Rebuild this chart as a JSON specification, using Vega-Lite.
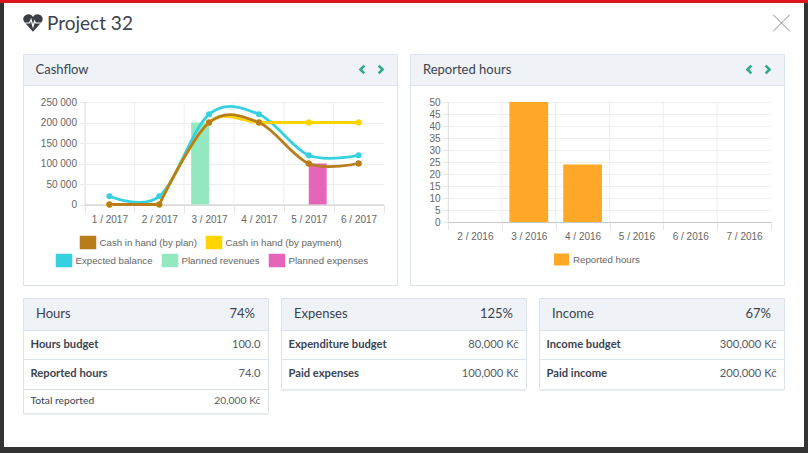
{
"$schema":"https://vega.github.io/schema/vega-lite/v6.json",
"background":"#ffffff",
"padding":0,
"spacing":0,
"config":{"view":{"stroke":null},"concat":{"spacing":0}},
"datasets":{
"planned":[{"month":"3 / 2017","series":"Planned revenues","amount":200000},{"month":"5 / 2017","series":"Planned expenses","amount":100000}],
"balance":[
{"month":"1 / 2017","series":"Expected balance","amount":20000},{"month":"2 / 2017","series":"Expected balance","amount":20000},{"month":"3 / 2017","series":"Expected balance","amount":220000},{"month":"4 / 2017","series":"Expected balance","amount":220000},{"month":"5 / 2017","series":"Expected balance","amount":120000},{"month":"6 / 2017","series":"Expected balance","amount":120000}],
"cashFlat":[
{"month":"1 / 2017","series":"Cash in hand (by payment)","amount":0},{"month":"2 / 2017","series":"Cash in hand (by payment)","amount":0},
{"month":"1 / 2017","series":"Cash in hand (by plan)","amount":0},{"month":"2 / 2017","series":"Cash in hand (by plan)","amount":0}],
"cashCurve":[
{"month":"2 / 2017","series":"Cash in hand (by payment)","amount":0},{"month":"3 / 2017","series":"Cash in hand (by payment)","amount":200000},{"month":"4 / 2017","series":"Cash in hand (by payment)","amount":200000},{"month":"5 / 2017","series":"Cash in hand (by payment)","amount":200000},{"month":"6 / 2017","series":"Cash in hand (by payment)","amount":200000},
{"month":"2 / 2017","series":"Cash in hand (by plan)","amount":0},{"month":"3 / 2017","series":"Cash in hand (by plan)","amount":200000},{"month":"4 / 2017","series":"Cash in hand (by plan)","amount":200000},{"month":"5 / 2017","series":"Cash in hand (by plan)","amount":100000},{"month":"6 / 2017","series":"Cash in hand (by plan)","amount":100000}],
"cash":[
{"month":"1 / 2017","series":"Cash in hand (by payment)","amount":0},{"month":"2 / 2017","series":"Cash in hand (by payment)","amount":0},{"month":"3 / 2017","series":"Cash in hand (by payment)","amount":200000},{"month":"4 / 2017","series":"Cash in hand (by payment)","amount":200000},{"month":"5 / 2017","series":"Cash in hand (by payment)","amount":200000},{"month":"6 / 2017","series":"Cash in hand (by payment)","amount":200000},
{"month":"1 / 2017","series":"Cash in hand (by plan)","amount":0},{"month":"2 / 2017","series":"Cash in hand (by plan)","amount":0},{"month":"3 / 2017","series":"Cash in hand (by plan)","amount":200000},{"month":"4 / 2017","series":"Cash in hand (by plan)","amount":200000},{"month":"5 / 2017","series":"Cash in hand (by plan)","amount":100000},{"month":"6 / 2017","series":"Cash in hand (by plan)","amount":100000}],
"hours":[{"month":"2 / 2016","hours":0},{"month":"3 / 2016","hours":50},{"month":"4 / 2016","hours":24},{"month":"5 / 2016","hours":0},{"month":"6 / 2016","hours":0},{"month":"7 / 2016","hours":0}]
},
"vconcat":[
{"width":808,"height":3,"view":{"fill":"#d9161e"},"data":{"values":[]},"mark":"rect"},
{"hconcat":[
{"width":4,"height":444,"view":{"fill":"#333333"},"data":{"values":[]},"mark":"rect"},
{"spacing":10,"vconcat":[
{"width":800,"height":40,"view":{"fill":"#ffffff"},"data":{"values":[{"title":"Project 32"}]},
"encoding":{"x":{"datum":0,"type":"quantitative","scale":{"domain":[0,1],"range":[29,777.5]},"axis":null}},
"layer":[
{"mark":{"type":"point","filled":true,"opacity":1,"color":"#3b3f46","size":380,"shape":"M0,0.9L-0.85,-0.05C-1.2,-0.5,-0.85,-0.9,-0.45,-0.9C-0.2,-0.9,-0.05,-0.75,0,-0.6C0.05,-0.75,0.2,-0.9,0.45,-0.9C0.85,-0.9,1.2,-0.5,0.85,-0.05Z"}},
{"mark":{"type":"point","filled":false,"opacity":1,"color":"#ffffff","strokeWidth":1.2,"size":380,"shape":"M-0.8,0H-0.35L-0.2,-0.35L0,0.35L0.15,-0.2L0.25,0H0.8"}},
{"mark":{"type":"text","align":"left","baseline":"middle","dy":1,"font":"Lato","fontSize":19,"color":"#3b4351"},"encoding":{"x":{"datum":0.0187,"type":"quantitative"},"text":{"field":"title"}}},
{"mark":{"type":"point","filled":false,"opacity":1,"color":"#8a8a8a","strokeWidth":1,"size":275,"shape":"M-1,-1L1,1M-1,1L1,-1"},"encoding":{"x":{"datum":1,"type":"quantitative"}}}
]},
{"hconcat":[
{"width":18,"height":10,"view":{"fill":"#ffffff"},"data":{"values":[]},"mark":"rect"},
{"spacing":11,"vconcat":[
{"spacing":11,"hconcat":[
{"bounds":"flush","spacing":0,"vconcat":[
{"width":374,"height":31,"view":{"fill":"#eff2f7","stroke":"#dde3ec"},"data":{"values":[{"title":"Cashflow"}]},
"encoding":{"x":{"datum":0,"type":"quantitative","scale":{"domain":[0,1],"range":[12.5,358]},"axis":null}},
"layer":[
{"mark":{"type":"text","align":"left","baseline":"middle","font":"Lato","fontSize":13,"color":"#3b4351"},"encoding":{"text":{"field":"title"}}},
{"mark":{"type":"point","filled":false,"opacity":1,"color":"#2fa98a","strokeWidth":2.6,"size":60,"shape":"M0.6,-1L-0.4,0L0.6,1"},"encoding":{"x":{"datum":0.945,"type":"quantitative"}}},
{"mark":{"type":"point","filled":false,"opacity":1,"color":"#2fa98a","strokeWidth":2.6,"size":60,"shape":"M-0.6,-1L0.4,0L-0.6,1"},"encoding":{"x":{"datum":1,"type":"quantitative"}}}
]},
{"width":374,"height":200,"view":{"fill":"#ffffff","stroke":"#dde3ec"},
"encoding":{
"x":{"field":"month","type":"nominal","sort":null,"title":null,
"scale":{"type":"band","domain":["1 / 2017","2 / 2017","3 / 2017","4 / 2017","5 / 2017","6 / 2017"],"range":[61.5,360.5],"paddingInner":0,"paddingOuter":0},
"axis":{"orient":"bottom","offset":-80.5,"labelAngle":0,"tickBand":"extent","tickExtra":false,"tickSize":8,"labelPadding":1.5,"labelFont":"Liberation Sans","labelFontSize":10,"labelColor":"#666666","domainColor":"#c8c8c8","tickColor":"#e6e6e6","grid":false}},
"y":{"field":"amount","type":"quantitative","title":null,
"scale":{"domain":[0,250000],"range":[119.5,17],"nice":false},
"axis":{"orient":"left","offset":-61.5,"values":[0,50000,100000,150000,200000,250000],"labelExpr":"replace(format(datum.value,','),/,/g,' ')","tickSize":5,"labelPadding":3,"labelFont":"Liberation Sans","labelFontSize":10,"labelColor":"#666666","domainColor":"#d8d8d8","tickColor":"#e6e6e6","grid":true,"gridColor":"#eeeeee"}}
},
"layer":[
{"data":{"name":"balance"},"mark":{"type":"rule","color":"#eeeeee"},"encoding":{"x":{"field":"month","type":"nominal","bandPosition":0},"y":{"datum":0},"y2":{"datum":250000}}},
{"encoding":{"color":{"field":"series","type":"nominal","scale":{"domain":["Expected balance","Planned revenues","Planned expenses"],"range":["#36d1e0","#93e8bf","#e565b8"]},
"legend":{"orient":"none","legendX":32.5,"legendY":167,"title":null,"columns":3,"gridAlign":"none","symbolType":"M-1,-0.8H1V0.8H-1Z","symbolSize":225,"symbolOpacity":1,"labelFont":"Liberation Sans","labelFontSize":9.7,"labelColor":"#666666","labelOffset":3,"columnPadding":6}}},
"layer":[
{"data":{"name":"planned"},"mark":{"type":"bar"},"encoding":{"xOffset":{"field":"series","scale":{"domain":["Planned revenues","Planned expenses"],"paddingInner":0,"paddingOuter":0.39}}}},
{"data":{"name":"balance"},"mark":{"type":"line","interpolate":"cardinal","tension":0,"strokeWidth":2.8},"encoding":{"color":{"field":"series","type":"nominal","legend":null}}},
{"data":{"name":"balance"},"mark":{"type":"point","filled":true,"opacity":1,"size":36}}
]},
{"encoding":{"color":{"field":"series","type":"nominal","scale":{"domain":["Cash in hand (by plan)","Cash in hand (by payment)"],"range":["#b87d1a","#ffd400"]},
"legend":{"orient":"none","legendX":56.5,"legendY":149,"title":null,"columns":2,"gridAlign":"none","symbolType":"M-1,-0.8H1V0.8H-1Z","symbolSize":225,"symbolOpacity":1,"labelFont":"Liberation Sans","labelFontSize":9.7,"labelColor":"#666666","labelOffset":3,"columnPadding":6}}},
"layer":[
{"data":{"name":"cash"},"mark":{"type":"point","filled":true,"opacity":1,"size":36}},
{"data":{"name":"cashFlat"},"mark":{"type":"line","strokeWidth":2.8},"encoding":{"color":{"field":"series","type":"nominal","legend":null}}},
{"data":{"name":"cashCurve"},"mark":{"type":"line","interpolate":"cardinal","tension":0,"strokeWidth":2.8},"encoding":{"color":{"field":"series","type":"nominal","legend":null}}},
{"data":{"name":"cash"},"mark":{"type":"point","filled":true,"opacity":1,"size":36}}
]}
],
"resolve":{"scale":{"color":"independent"},"legend":{"color":"independent"}}
}
]},
{"bounds":"flush","spacing":0,"vconcat":[
{"width":374,"height":31,"view":{"fill":"#eff2f7","stroke":"#dde3ec"},"data":{"values":[{"title":"Reported hours"}]},
"encoding":{"x":{"datum":0,"type":"quantitative","scale":{"domain":[0,1],"range":[13,358]},"axis":null}},
"layer":[
{"mark":{"type":"text","align":"left","baseline":"middle","font":"Lato","fontSize":13,"color":"#3b4351"},"encoding":{"text":{"field":"title"}}},
{"mark":{"type":"point","filled":false,"opacity":1,"color":"#2fa98a","strokeWidth":2.6,"size":60,"shape":"M0.6,-1L-0.4,0L0.6,1"},"encoding":{"x":{"datum":0.945,"type":"quantitative"}}},
{"mark":{"type":"point","filled":false,"opacity":1,"color":"#2fa98a","strokeWidth":2.6,"size":60,"shape":"M-0.6,-1L0.4,0L-0.6,1"},"encoding":{"x":{"datum":1,"type":"quantitative"}}}
]},
{"width":374,"height":200,"view":{"fill":"#ffffff","stroke":"#dde3ec"},"data":{"name":"hours"},
"encoding":{
"x":{"field":"month","type":"nominal","sort":null,"title":null,
"scale":{"type":"band","range":[38,361],"paddingInner":0,"paddingOuter":0},
"axis":{"orient":"bottom","offset":-63,"labelAngle":0,"tickBand":"extent","tickExtra":false,"tickSize":8,"labelPadding":1.5,"labelFont":"Liberation Sans","labelFontSize":10,"labelColor":"#666666","domainColor":"#c8c8c8","tickColor":"#e6e6e6","grid":false}},
"y":{"field":"hours","type":"quantitative","title":null,
"scale":{"domain":[0,50],"range":[137,17],"nice":false},
"axis":{"orient":"left","offset":-38,"values":[0,5,10,15,20,25,30,35,40,45,50],"tickSize":5,"labelPadding":3,"labelFont":"Liberation Sans","labelFontSize":10,"labelColor":"#666666","domainColor":"#d8d8d8","tickColor":"#e6e6e6","grid":true,"gridColor":"#eeeeee"}}
},
"layer":[
{"mark":{"type":"rule","color":"#eeeeee"},"encoding":{"x":{"field":"month","type":"nominal","bandPosition":0},"y":{"datum":0},"y2":{"datum":50}}},
{"mark":{"type":"bar","width":{"band":0.72}},
"encoding":{"color":{"datum":"Reported hours","type":"nominal","scale":{"range":["#ffa726"]},
"legend":{"orient":"none","legendX":143,"legendY":166,"title":null,"symbolType":"M-1,-0.8H1V0.8H-1Z","symbolSize":225,"symbolOpacity":1,"labelFont":"Liberation Sans","labelFontSize":9.7,"labelColor":"#666666","labelOffset":3}}}}
],
"resolve":{"scale":{"color":"independent"},"legend":{"color":"independent"}}
}
]}
]},
{"spacing":11,"hconcat":[
{"bounds":"flush","spacing":0,"vconcat":[
{"width":245,"height":32,"view":{"fill":"#eff2f7","stroke":"#dde3ec"},"data":{"values":[{"title":"Hours","share":"74%"}]},"layer":[
{"mark":{"type":"text","align":"left","baseline":"middle","font":"Lato","fontSize":13,"color":"#3b4351"},"encoding":{"x":{"datum":0,"type":"quantitative","scale":{"domain":[0,1],"range":[13,232]},"axis":null},"text":{"field":"title"}}},
{"mark":{"type":"text","align":"right","baseline":"middle","font":"Lato","fontSize":13,"color":"#3b4351"},"encoding":{"x":{"datum":1,"type":"quantitative"},"text":{"field":"share"}}}]},
{"width":245,"height":29,"view":{"fill":"#ffffff","stroke":"#dde3ec"},"data":{"values":[{"label":"Hours budget","amount":"100.0"}]},"layer":[
{"mark":{"type":"text","align":"left","baseline":"middle","font":"Lato","fontSize":11.2,"fontWeight":"bold","color":"#3b4351"},"encoding":{"x":{"datum":0,"type":"quantitative","scale":{"domain":[0,1],"range":[7.5,237.5]},"axis":null},"text":{"field":"label"}}},
{"mark":{"type":"text","align":"right","baseline":"middle","font":"Lato","fontSize":11.2,"color":"#555b66"},"encoding":{"x":{"datum":1,"type":"quantitative"},"text":{"field":"amount"}}}]},
{"width":245,"height":30,"view":{"fill":"#ffffff","stroke":"#dde3ec"},"data":{"values":[{"label":"Reported hours","amount":"74.0"}]},"layer":[
{"mark":{"type":"text","align":"left","baseline":"middle","font":"Lato","fontSize":11.2,"fontWeight":"bold","color":"#3b4351"},"encoding":{"x":{"datum":0,"type":"quantitative","scale":{"domain":[0,1],"range":[7.5,237.5]},"axis":null},"text":{"field":"label"}}},
{"mark":{"type":"text","align":"right","baseline":"middle","font":"Lato","fontSize":11.2,"color":"#555b66"},"encoding":{"x":{"datum":1,"type":"quantitative"},"text":{"field":"amount"}}}]},
{"width":245,"height":24,"view":{"fill":"#ffffff","stroke":"#dde3ec"},"data":{"values":[{"label":"Total reported","amount":"20,000 Kč"}]},"layer":[
{"mark":{"type":"text","align":"left","baseline":"middle","font":"Lato","fontSize":10.3,"color":"#3b4351"},"encoding":{"x":{"datum":0,"type":"quantitative","scale":{"domain":[0,1],"range":[7.5,237.5]},"axis":null},"text":{"field":"label"}}},
{"mark":{"type":"text","align":"right","baseline":"middle","font":"Lato","fontSize":10.3,"color":"#555b66"},"encoding":{"x":{"datum":1,"type":"quantitative"},"text":{"field":"amount"}}}]},
{"width":245,"height":2,"view":{"fill":"#e6eaf1"},"data":{"values":[]},"mark":"rect"}
]},
{"bounds":"flush","spacing":0,"vconcat":[
{"width":245,"height":32,"view":{"fill":"#eff2f7","stroke":"#dde3ec"},"data":{"values":[{"title":"Expenses","share":"125%"}]},"layer":[
{"mark":{"type":"text","align":"left","baseline":"middle","font":"Lato","fontSize":13,"color":"#3b4351"},"encoding":{"x":{"datum":0,"type":"quantitative","scale":{"domain":[0,1],"range":[13,232]},"axis":null},"text":{"field":"title"}}},
{"mark":{"type":"text","align":"right","baseline":"middle","font":"Lato","fontSize":13,"color":"#3b4351"},"encoding":{"x":{"datum":1,"type":"quantitative"},"text":{"field":"share"}}}]},
{"width":245,"height":29,"view":{"fill":"#ffffff","stroke":"#dde3ec"},"data":{"values":[{"label":"Expenditure budget","amount":"80,000 Kč"}]},"layer":[
{"mark":{"type":"text","align":"left","baseline":"middle","font":"Lato","fontSize":11.2,"fontWeight":"bold","color":"#3b4351"},"encoding":{"x":{"datum":0,"type":"quantitative","scale":{"domain":[0,1],"range":[7.5,237.5]},"axis":null},"text":{"field":"label"}}},
{"mark":{"type":"text","align":"right","baseline":"middle","font":"Lato","fontSize":11.2,"color":"#555b66"},"encoding":{"x":{"datum":1,"type":"quantitative"},"text":{"field":"amount"}}}]},
{"width":245,"height":30,"view":{"fill":"#ffffff","stroke":"#dde3ec"},"data":{"values":[{"label":"Paid expenses","amount":"100,000 Kč"}]},"layer":[
{"mark":{"type":"text","align":"left","baseline":"middle","font":"Lato","fontSize":11.2,"fontWeight":"bold","color":"#3b4351"},"encoding":{"x":{"datum":0,"type":"quantitative","scale":{"domain":[0,1],"range":[7.5,237.5]},"axis":null},"text":{"field":"label"}}},
{"mark":{"type":"text","align":"right","baseline":"middle","font":"Lato","fontSize":11.2,"color":"#555b66"},"encoding":{"x":{"datum":1,"type":"quantitative"},"text":{"field":"amount"}}}]},
{"width":245,"height":2,"view":{"fill":"#e6eaf1"},"data":{"values":[]},"mark":"rect"}
]},
{"bounds":"flush","spacing":0,"vconcat":[
{"width":245,"height":32,"view":{"fill":"#eff2f7","stroke":"#dde3ec"},"data":{"values":[{"title":"Income","share":"67%"}]},"layer":[
{"mark":{"type":"text","align":"left","baseline":"middle","font":"Lato","fontSize":13,"color":"#3b4351"},"encoding":{"x":{"datum":0,"type":"quantitative","scale":{"domain":[0,1],"range":[13,232]},"axis":null},"text":{"field":"title"}}},
{"mark":{"type":"text","align":"right","baseline":"middle","font":"Lato","fontSize":13,"color":"#3b4351"},"encoding":{"x":{"datum":1,"type":"quantitative"},"text":{"field":"share"}}}]},
{"width":245,"height":29,"view":{"fill":"#ffffff","stroke":"#dde3ec"},"data":{"values":[{"label":"Income budget","amount":"300,000 Kč"}]},"layer":[
{"mark":{"type":"text","align":"left","baseline":"middle","font":"Lato","fontSize":11.2,"fontWeight":"bold","color":"#3b4351"},"encoding":{"x":{"datum":0,"type":"quantitative","scale":{"domain":[0,1],"range":[7.5,237.5]},"axis":null},"text":{"field":"label"}}},
{"mark":{"type":"text","align":"right","baseline":"middle","font":"Lato","fontSize":11.2,"color":"#555b66"},"encoding":{"x":{"datum":1,"type":"quantitative"},"text":{"field":"amount"}}}]},
{"width":245,"height":30,"view":{"fill":"#ffffff","stroke":"#dde3ec"},"data":{"values":[{"label":"Paid income","amount":"200,000 Kč"}]},"layer":[
{"mark":{"type":"text","align":"left","baseline":"middle","font":"Lato","fontSize":11.2,"fontWeight":"bold","color":"#3b4351"},"encoding":{"x":{"datum":0,"type":"quantitative","scale":{"domain":[0,1],"range":[7.5,237.5]},"axis":null},"text":{"field":"label"}}},
{"mark":{"type":"text","align":"right","baseline":"middle","font":"Lato","fontSize":11.2,"color":"#555b66"},"encoding":{"x":{"datum":1,"type":"quantitative"},"text":{"field":"amount"}}}]},
{"width":245,"height":2,"view":{"fill":"#e6eaf1"},"data":{"values":[]},"mark":"rect"}
]}
]}
]}
]}
]},
{"width":4,"height":444,"view":{"fill":"#333333"},"data":{"values":[]},"mark":"rect"}
]},
{"width":808,"height":6,"view":{"fill":"#333333"},"data":{"values":[]},"mark":"rect"}
]
}
